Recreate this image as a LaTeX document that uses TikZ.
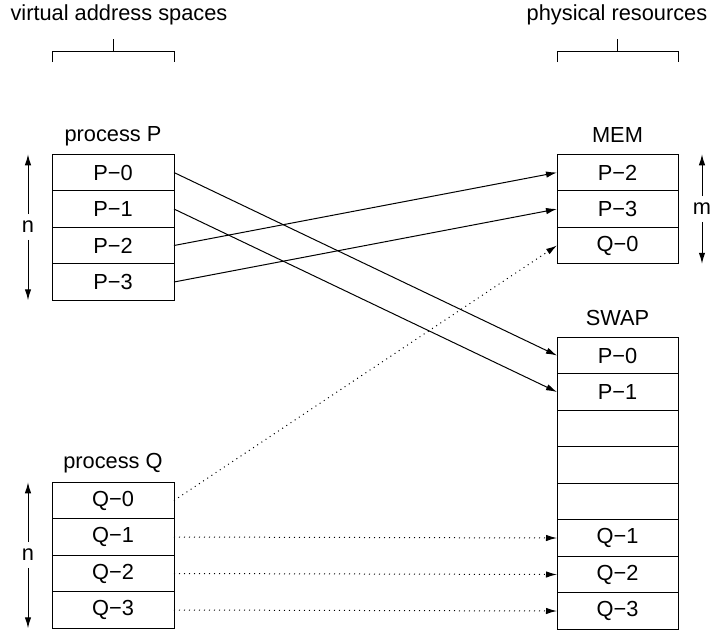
\documentclass[tikz,border=0pt]{standalone}
\usepackage{fontspec}
\setmainfont{Liberation Sans}
\usetikzlibrary{positioning, arrows.meta}

\begin{document}
\begin{tikzpicture}[x=0.5pt, y=-0.5pt,
  every node/.style={font=\fontsize{10.9}{13}\selectfont},
  cell/.style={draw, line width=0.5pt, outer sep=0pt, inner sep=0pt, minimum width=61pt, minimum height=18.25pt},
  link/.style={line width=0.5pt, -{Latex[length=5.5pt, width=3.2pt]}},
  dim/.style={line width=0.5pt, -{Latex[length=5.5pt, width=3.2pt]}}]
\useasboundingbox (0,0) rectangle (714,629);
% headers
\node (vas) at (119,15) {virtual address spaces};
\node (phr) at (617,15) {physical resources};
\draw[line width=0.5pt] (52,62) -- (52,51) -- (174,51) -- (174,62) (113,51) -- (113,39);
\draw[line width=0.5pt] (557,62) -- (557,51) -- (678,51) -- (678,62) (617.5,51) -- (617.5,39);
% process P
\node (lp) at (113,136) {process P};
\node[cell] (p0) at (113,172.5) {P−0};
\node[cell, below=0pt of p0] (p1) {P−1};
\node[cell, below=0pt of p1] (p2) {P−2};
\node[cell, below=0pt of p2] (p3) {P−3};
% process Q
\node (lq) at (113,463) {process Q};
\node[cell] (q0) at (113,500.5) {Q−0};
\node[cell, below=0pt of q0] (q1) {Q−1};
\node[cell, below=0pt of q1] (q2) {Q−2};
\node[cell, below=0pt of q2] (q3) {Q−3};
% memory
\node (lm) at (617.5,135) {MEM};
\node[cell, minimum width=60.5pt] (m0) at (617.5,172.5) {P−2};
\node[cell, minimum width=60.5pt, below=0pt of m0] (m1) {P−3};
\node[cell, minimum width=60.5pt, below=0pt of m1] (m2) {Q−0};
% swap
\node (ls) at (617.5,318) {SWAP};
\node[cell, minimum width=60.5pt] (s0) at (617.5,355.5) {P−0};
\node[cell, minimum width=60.5pt, below=0pt of s0] (s1) {P−1};
\node[cell, minimum width=60.5pt, below=0pt of s1] (s2) {};
\node[cell, minimum width=60.5pt, below=0pt of s2] (s3) {};
\node[cell, minimum width=60.5pt, below=0pt of s3] (s4) {};
\node[cell, minimum width=60.5pt, below=0pt of s4] (s5) {Q−1};
\node[cell, minimum width=60.5pt, below=0pt of s5] (s6) {Q−2};
\node[cell, minimum width=60.5pt, below=0pt of s6] (s7) {Q−3};
% sizes
\node (np) at (28,227) {n};
\draw[dim] (np) -- (np |- p0.north);
\draw[dim] (np) -- (np |- p3.south);
\node (nq) at (28,555) {n};
\draw[dim] (nq) -- (nq |- q0.north);
\draw[dim] (nq) -- (nq |- q3.south);
\node (mm) at (702,209) {m};
\draw[dim] (mm) -- (mm |- m0.north);
\draw[dim] (mm) -- (mm |- m2.south);
% mappings
\draw[link] (p0.east) -- (s0.west);
\draw[link] (p1.east) -- (s1.west);
\draw[link] (p2.east) -- (m0.west);
\draw[link] (p3.east) -- (m1.west);
\draw[link, dotted] (q0.east) -- (m2.west);
\draw[link, dotted] (q1.east) -- (s5.west);
\draw[link, dotted] (q2.east) -- (s6.west);
\draw[link, dotted] (q3.east) -- (s7.west);
\end{tikzpicture}
\end{document}
